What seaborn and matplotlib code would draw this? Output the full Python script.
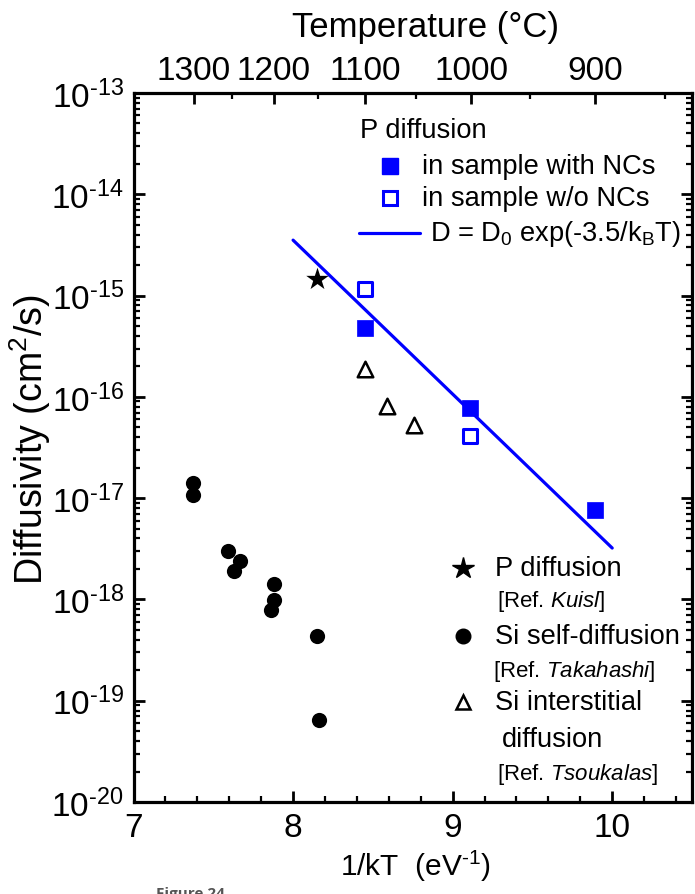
import numpy as np
import pandas as pd
import matplotlib
matplotlib.use("Agg")
import matplotlib.pyplot as plt
from matplotlib.lines import Line2D
from matplotlib.ticker import FixedLocator, MultipleLocator, LogLocator, NullFormatter, FuncFormatter
import seaborn as sns

# ---- data -------------------------------------------------------------
# P diffusion measured in the samples with nanocrystals (NCs)
nc_x = [8.45, 9.11, 9.89]
nc_D = [4.8e-16, 7.7e-17, 7.6e-18]
# P diffusion in samples without NCs
nonc_x = [8.45, 9.11]
nonc_D = [1.17e-15, 4.1e-17]
# literature values
kuisl_x = [8.15]
kuisl_D = [1.45e-15]
takahashi_x = [7.37, 7.37, 7.59, 7.63, 7.67, 7.86, 7.88, 7.88, 8.15, 8.16]
takahashi_D = [1.41e-17, 1.08e-17, 3.0e-18, 1.9e-18, 2.4e-18, 7.8e-19, 9.8e-19, 1.43e-18, 4.4e-19, 6.5e-20]
tsoukalas_x = [8.45, 8.59, 8.76]
tsoukalas_D = [1.87e-16, 8.1e-17, 5.3e-17]
# Arrhenius fit D = D0 exp(-Ea/kT)
fit_Ea = 3.5
fit_D0 = 5.1e-3
fit_x = [8.0, 10.0]
# temperature scale on the top axis
temp_major = [1300, 1200, 1100, 1000, 900]
temp_minor = [1250, 1150, 1050, 950, 850]
k_B = 8.617e-5

sns.set_theme(style="ticks")
plt.rcParams["font.family"] = ["Liberation Sans", "DejaVu Sans"]
plt.rcParams["mathtext.fontset"] = "custom"
plt.rcParams["mathtext.rm"] = "Liberation Sans"
plt.rcParams["mathtext.it"] = "Liberation Sans:italic"
plt.rcParams["axes.linewidth"] = 2.3
for key in ["text.color", "axes.labelcolor", "xtick.color", "ytick.color", "axes.edgecolor"]:
    plt.rcParams[key] = "black"

W, H = 695, 895
fig = plt.figure(figsize=(W / 100, H / 100), dpi=100)
L, R, T, B = 133.5, 692.0, 94.0, 803.0
ax = fig.add_axes([L / W, 1 - B / H, (R - L) / W, (B - T) / H])


def fx(px):
    return (px - L) / (R - L)


def fy(py):
    return (B - py) / (B - T)


blue = "#0000FF"

fit_df = pd.DataFrame({"x": fit_x, "D": [fit_D0 * np.exp(-fit_Ea * v) for v in fit_x]})
sns.lineplot(data=fit_df, x="x", y="D", color=blue, lw=2.3, ax=ax, zorder=2)

sns.scatterplot(x=takahashi_x, y=takahashi_D, marker="o", s=120, color="black",
                edgecolor="black", linewidth=0, ax=ax, zorder=3)
sns.scatterplot(x=kuisl_x, y=kuisl_D, marker="*", s=290, color="black",
                edgecolor="black", linewidth=0, ax=ax, zorder=3)
sns.scatterplot(x=tsoukalas_x, y=tsoukalas_D, marker="^", s=125, facecolor="white",
                edgecolor="black", linewidth=1.8, ax=ax, zorder=3)
sns.scatterplot(x=nc_x, y=nc_D, marker="s", s=135, color=blue,
                edgecolor=blue, linewidth=0.5, ax=ax, zorder=4)
sns.scatterplot(x=nonc_x, y=nonc_D, marker="s", s=90, facecolor="white",
                edgecolor=blue, linewidth=2.2, ax=ax, zorder=4)

ax.set_yscale("log")
ax.set_xlim(7, 10.5)
ax.set_ylim(1e-20, 1e-13)

# bottom / left ticks
ax.xaxis.set_major_locator(FixedLocator([7, 8, 9, 10]))
ax.xaxis.set_minor_locator(MultipleLocator(0.2))
ax.yaxis.set_major_locator(LogLocator(base=10, numticks=20))
ax.yaxis.set_minor_locator(LogLocator(base=10, subs=np.arange(2, 10), numticks=20))
ax.yaxis.set_minor_formatter(NullFormatter())
ax.yaxis.set_major_formatter(
    FuncFormatter(lambda v, p: r"$\mathdefault{10^{\text{-}%d}}$" % abs(round(np.log10(v)))))
ax.tick_params(axis="both", which="major", direction="in", length=8, width=2.0,
               labelsize=24, colors="black")
ax.tick_params(axis="both", which="minor", direction="in", length=4, width=1.6, colors="black")
ax.tick_params(axis="x", which="major", pad=7)
ax.tick_params(axis="y", which="major", pad=7)
ax.tick_params(axis="y", which="both", right=True)

ax.set_xlabel(r"1/kT  (eV$^{\mathdefault{\text{-}1}}$)", fontsize=21.5)
ax.xaxis.set_label_coords(fx(415), fy(866))
ax.xaxis.label.set_verticalalignment("center")
ax.set_ylabel(r"Diffusivity (cm$^{\mathdefault{2}}$/s)", fontsize=27)
ax.yaxis.set_label_coords(fx(30), fy(440))
ax.yaxis.label.set_verticalalignment("center")

# top axis in degrees Celsius
top = ax.twiny()
top.set_xlim(ax.get_xlim())
top.xaxis.set_major_locator(FixedLocator([1 / (k_B * (t + 273.15)) for t in temp_major]))
top.xaxis.set_minor_locator(FixedLocator([1 / (k_B * (t + 273.15)) for t in temp_minor]))
top.set_xticklabels([str(t) for t in temp_major])
top.tick_params(axis="x", which="major", direction="in", length=8, width=2.0, labelsize=24,
                pad=5, colors="black")
top.tick_params(axis="x", which="minor", direction="in", length=4, width=1.6, colors="black")
top.set_xlabel("Temperature (\u00b0C)", fontsize=25)
top.xaxis.set_label_coords(fx(426), fy(28))
top.xaxis.label.set_verticalalignment("center")
for s in top.spines.values():
    s.set_visible(False)

# legend for the P diffusion data
tr = ax.transAxes
leg_fs = 19.6
ax.text(fx(360), fy(131), "P diffusion", transform=tr, fontsize=leg_fs, va="center", ha="left")
ax.add_line(Line2D([fx(390)], [fy(166.7)], marker="s", ms=11.5, color=blue, mec=blue,
                   ls="", transform=tr))
ax.text(fx(421.7), fy(166.7), "in sample with NCs", transform=tr, fontsize=leg_fs, va="center")
ax.add_line(Line2D([fx(390)], [fy(199.3)], marker="s", ms=9.5, mfc="white", mec=blue, mew=2.2,
                   ls="", transform=tr))
ax.text(fx(421.7), fy(199.3), "in sample w/o NCs", transform=tr, fontsize=leg_fs, va="center")
ax.add_line(Line2D([fx(359), fx(420)], [fy(234.3), fy(234.3)], color=blue, lw=2.3, transform=tr))
ax.text(fx(430), fy(234), r"D = $\mathdefault{D_0}$ exp(-3.5/$\mathdefault{k_B}$T)",
        transform=tr, fontsize=leg_fs, va="center")

# legend for literature data
ref_fs = 16
ax.add_line(Line2D([fx(463.3)], [fy(569)], marker="*", ms=16, color="black", ls="", transform=tr))
ax.text(fx(495), fy(569), "P diffusion", transform=tr, fontsize=leg_fs, va="center")
ax.text(fx(496.7), fy(601.7), r"[Ref. $\mathit{Kuisl}$]", transform=tr, fontsize=ref_fs, va="center")
ax.add_line(Line2D([fx(463.3)], [fy(636.7)], marker="o", ms=10.5, color="black", ls="", transform=tr))
ax.text(fx(495), fy(636.7), "Si self-diffusion", transform=tr, fontsize=leg_fs, va="center")
ax.text(fx(493), fy(671.7), r"[Ref. $\mathit{Takahashi}$]", transform=tr, fontsize=ref_fs, va="center")
ax.add_line(Line2D([fx(463.3)], [fy(703.3)], marker="^", ms=10.5, mfc="white", mec="black", mew=1.8,
                   ls="", transform=tr))
ax.text(fx(495), fy(703.3), "Si interstitial", transform=tr, fontsize=leg_fs, va="center")
ax.text(fx(501.7), fy(740), "diffusion", transform=tr, fontsize=leg_fs, va="center")
ax.text(fx(496.7), fy(775), r"[Ref. $\mathit{Tsoukalas}$]", transform=tr, fontsize=ref_fs, va="center")

fig.text(156 / W, 1 - 887 / H, "Figure 24", fontsize=11, fontweight="bold", color="#555555",
         family=["Open Sans", "DejaVu Sans"], va="top", ha="left")

fig.savefig("out.png", dpi=100)
